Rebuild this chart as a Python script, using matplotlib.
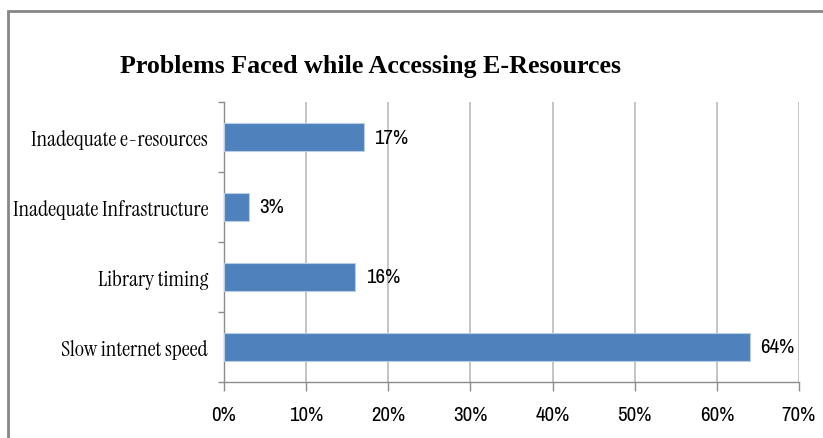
import matplotlib.pyplot as plt
from matplotlib.patches import Rectangle
from matplotlib.ticker import FuncFormatter, MultipleLocator

# survey results, bottom to top
problems = ['Slow internet speed', 'Library timing',
            'Inadequate Infrastructure', 'Inadequate e-resources']
share = [64, 16, 3, 17]

bar_color = '#4F81BD'
grid_color = '#BFBFBF'
axis_color = '#8C8C8C'
label_font = ['Instrument Serif', 'Liberation Serif']
title_font = ['Liberation Serif']
num_font = ['Archivo Narrow', 'Liberation Sans']

W, H = 823, 439
fig = plt.figure(figsize=(W / 100, H / 100), dpi=100)

# chart frame (right and bottom edges run off the page)
fig.patches.append(Rectangle((8 / W, -0.1), 1.2, 1.1 - 12 / H,
                             transform=fig.transFigure, fill=False,
                             edgecolor='#878787', linewidth=2))

fig.text(371 / W, 1 - 73 / H, 'Problems Faced while Accessing E-Resources',
         ha='center', va='baseline', fontsize=18.7, fontweight='bold',
         family=title_font)

ax = fig.add_axes([224 / W, (H - 383) / H, 575 / W, 280 / H])
y = range(len(problems))
bars = ax.barh(y, share, height=0.39, color=bar_color,
               edgecolor='#B9CDE5', linewidth=0.8, zorder=3)

for b, v in zip(bars, share):
    ax.text(b.get_width() + 1.3, b.get_y() + b.get_height() / 2, f'{v}%',
            va='center', ha='left', fontsize=15, family=num_font)

ax.set_xlim(0, 70)
ax.set_ylim(-0.5, len(problems) - 0.5)
ax.xaxis.set_major_locator(MultipleLocator(10))
ax.xaxis.set_major_formatter(FuncFormatter(lambda v, p: f'{v:.0f}%'))

# tick marks between categories, names centred on the bars
ax.set_yticks([i - 0.5 for i in range(len(problems) + 1)])
ax.set_yticklabels([])
ax.set_yticks(list(y), minor=True)
ax.set_yticklabels(problems, minor=True, family=label_font, fontsize=16)
ax.tick_params(axis='y', which='minor', length=0, pad=11.5)
ax.tick_params(axis='y', which='major', length=4.5, width=1, color=axis_color)
ax.tick_params(axis='x', length=6.5, width=1, color=axis_color, pad=10)
for lab in ax.get_xticklabels():
    lab.set_family(num_font)
    lab.set_fontsize(15)

ax.grid(axis='x', color=grid_color, linewidth=1.3, zorder=0)
for s in ['top', 'right']:
    ax.spines[s].set_visible(False)
for s in ['left', 'bottom']:
    ax.spines[s].set_color(axis_color)
    ax.spines[s].set_linewidth(1)

fig.savefig('out.png', dpi=100)
